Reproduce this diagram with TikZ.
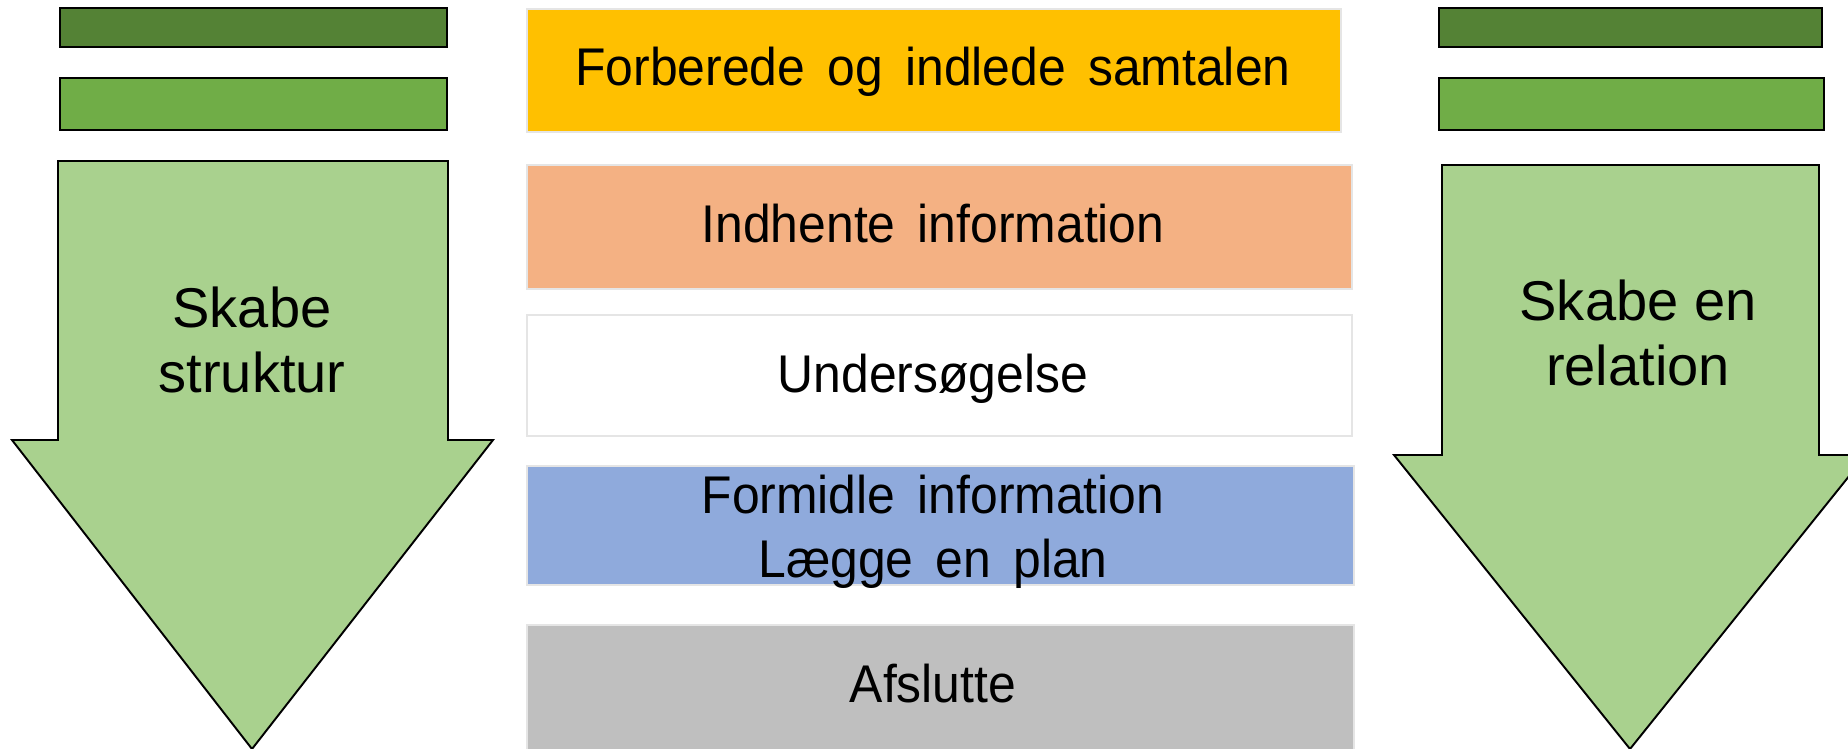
\documentclass[tikz,border=0pt]{standalone}
\usepackage{fontspec}
\setmainfont{Liberation Sans}
\newfontfamily\phasefont[WordSpace=1.6,FakeStretch=0.94]{Liberation Sans}
\definecolor{bardark}{HTML}{548235}
\definecolor{barmid}{HTML}{70AD47}
\definecolor{arrowgreen}{HTML}{A9D18E}
\definecolor{prepcol}{HTML}{FFC000}
\definecolor{infocol}{HTML}{F4B183}
\definecolor{plancol}{HTML}{8FAADC}
\definecolor{endcol}{HTML}{BFBFBF}

\begin{document}
\begin{tikzpicture}[x=0.02cm,y=-0.02cm,
	shape line/.style={draw=black,line width=1.1pt,line join=miter},
	phase/.style={draw=black!10,line width=0.8pt,inner sep=0pt},
	phasetext/.style={anchor=base,inner sep=0pt,align=center,
		font=\phasefont\fontsize{30.2}{35.9}\selectfont},
	arrowtext/.style={align=center,font=\fontsize{31.9}{37.5}\selectfont}]
	\useasboundingbox (0,0) rectangle (1848,749);
	\clip (0,0) rectangle (1848,749);
	% bars over the arrows
	\draw[shape line,fill=bardark] (60,8) rectangle (447,47);
	\draw[shape line,fill=barmid] (60,78) rectangle (447,130);
	\draw[shape line,fill=bardark] (1439,8) rectangle (1822,47);
	\draw[shape line,fill=barmid] (1439,78) rectangle (1824,130);
	% the two arrows
	\draw[shape line,fill=arrowgreen] (58,161) -- (448,161) -- (448,440) -- (493,440)
		-- (252,749) -- (12,440) -- (58,440) -- cycle;
	\draw[shape line,fill=arrowgreen] (1442,165) -- (1819,165) -- (1819,455) -- (1866,455)
		-- (1630,749) -- (1394,455) -- (1442,455) -- cycle;
	\node[arrowtext] (struktur) at (252,340) {Skabe\\struktur};
	\node[arrowtext] (relation) at (1638,333) {Skabe en\\relation};
	% phases of the conversation
	\node[phase,fill=prepcol,minimum width=16.28cm,minimum height=2.46cm] (prepare) at (934,70.5) {};
	\node[phase,fill=infocol,minimum width=16.5cm,minimum height=2.48cm] (gather) at (939.5,227) {};
	\node[phase,fill=white,minimum width=16.5cm,minimum height=2.42cm] (examine) at (939.5,375.5) {};
	\node[phase,fill=plancol,minimum width=16.54cm,minimum height=2.38cm] (plan) at (940.5,525.5) {};
	\node[phase,fill=endcol,minimum width=16.54cm,minimum height=2.54cm] (finish) at (940.5,688.5) {};
	% labels sit on their baselines (last line for the two-line one)
	\node[phasetext] (prepare label) at (933,86) {Forberede og indlede samtalen};
	\node[phasetext] (gather label) at (933,243) {Indhente information};
	\node[phasetext] (examine label) at (933,393) {Undersøgelse};
	\node[phasetext] (plan label) at (933,577) {Formidle information\\Lægge en plan};
	\node[phasetext] (finish label) at (933,702) {Afslutte};
\end{tikzpicture}
\end{document}
